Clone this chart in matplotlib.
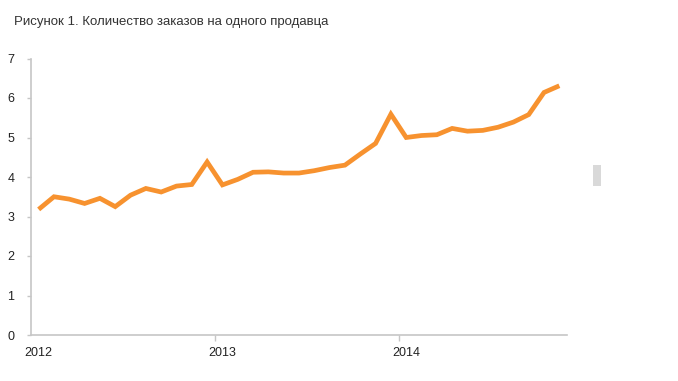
import matplotlib
matplotlib.use("Agg")
import matplotlib.pyplot as plt
from matplotlib.patches import Rectangle

# Monthly values, Jan 2012 .. Nov 2014
months = list(range(35))
orders_per_seller = [
    3.18, 3.50, 3.44, 3.33, 3.46, 3.25, 3.54, 3.71, 3.62, 3.77, 3.81, 4.38,
    3.80, 3.94, 4.12, 4.13, 4.10, 4.10, 4.16, 4.24, 4.30, 4.58, 4.85, 5.59,
    5.00, 5.05, 5.07, 5.23, 5.16, 5.18, 5.26, 5.39, 5.58, 6.14, 6.31,
]
year_labels = ["2012", "2013", "2014"]
year_starts = [0, 12, 24]
y_ticks = [0, 1, 2, 3, 4, 5, 6, 7]

TITLE = "Рисунок 1. Количество заказов на одного продавца"
AXIS_COLOR = "#c6c6c6"
LINE_COLOR = "#f7922f"

plt.rcParams['font.family'] = ['Liberation Sans', 'DejaVu Sans']

fig = plt.figure(figsize=(6.78, 3.81), dpi=100)
ax = fig.add_axes([31 / 678, 46 / 381, (567 - 31) / 678, (335 - 58.5) / 381])

# points sit in the middle of each month
x = [m + 0.5 for m in months]
ax.plot(x, orders_per_seller, color=LINE_COLOR, lw=3.4, solid_joinstyle='miter',
        solid_capstyle='butt')

ax.set_xlim(0, 35)
ax.set_ylim(0, 7)

for side in ["top", "right"]:
    ax.spines[side].set_visible(False)
for side in ["left", "bottom"]:
    ax.spines[side].set_color(AXIS_COLOR)
    ax.spines[side].set_linewidth(1.2)

ax.set_yticks(y_ticks)
ax.set_yticklabels([str(v) for v in y_ticks])
ax.tick_params(axis='y', length=3, width=1, color=AXIS_COLOR, pad=9,
               labelsize=9, labelcolor="#222222")

# tick marks at the year boundaries, labels a bit to the right
ax.set_xticks(year_starts[1:])
ax.set_xticklabels([])
ax.tick_params(axis='x', which='major', length=4, width=1, color=AXIS_COLOR)
ax.set_xticks([s + 0.5 for s in year_starts], minor=True)
ax.set_xticklabels(year_labels, minor=True)
ax.tick_params(axis='x', which='minor', length=0, pad=9, labelsize=9,
               labelcolor="#222222")

fig.text(14 / 678, 1 - 22 / 381, TITLE, fontsize=9.5, color="#333333",
         va='center', ha='left')

# small grey box at the right (legend placeholder)
fig.patches.append(Rectangle((593 / 678, 1 - 186 / 381), 8 / 678, 21 / 381,
                             transform=fig.transFigure, facecolor="#d9d9d9",
                             edgecolor="none"))

fig.savefig("out.png", dpi=100)
